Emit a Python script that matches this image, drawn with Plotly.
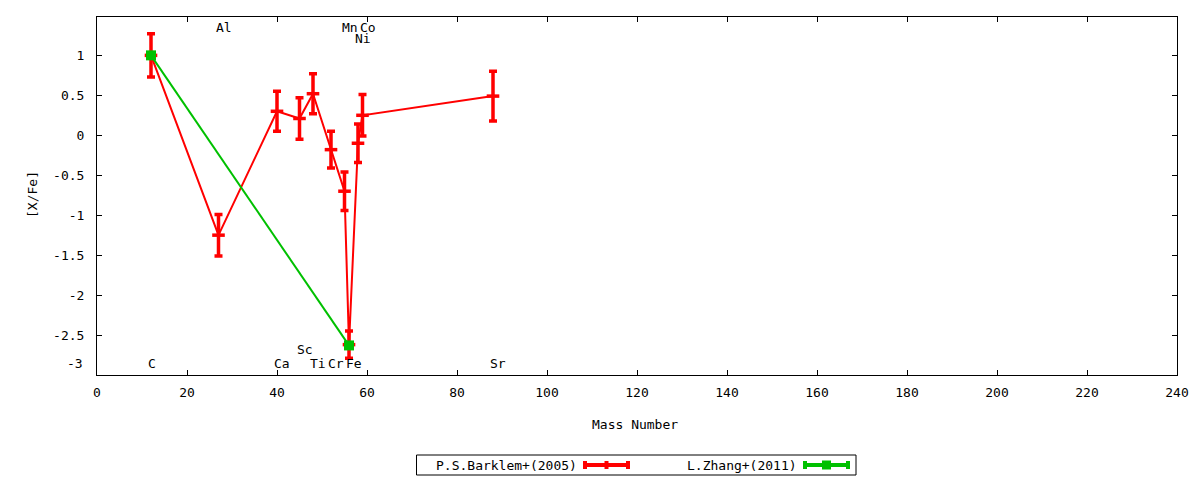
import plotly.graph_objects as go

# ---------------- data ----------------
barklem_elements = ["C", "Al", "Ca", "Sc", "Ti", "Cr", "Mn", "Fe", "Ni", "Co", "Sr"]
barklem_mass = [12, 27, 40, 45, 48, 52, 55, 56, 58, 59, 88]
barklem_xfe = [1.00, -1.25, 0.30, 0.21, 0.52, -0.18, -0.70, -2.62, -0.10, 0.25, 0.49]
barklem_err = [0.27, 0.26, 0.25, 0.26, 0.25, 0.23, 0.24, 0.17, 0.24, 0.26, 0.31]

zhang_elements = ["C", "Fe"]
zhang_mass = [12, 56]
zhang_xfe = [1.00, -2.63]
zhang_err = [0.0, 0.0]

series_names = ["P.S.Barklem+(2005)", "L.Zhang+(2011)"]

y_tick_vals = [1, 0.5, 0, -0.5, -1, -1.5, -2, -2.5]
y_tick_text = ["1", "0.5", "0", "-0.5", "-1", "-1.5", "-2", "-2.5"]
x_tick_vals = list(range(0, 241, 20))

# label placement rows (style)
label_row_y = {"top": 1.35, "top2": 1.21, "bottom": -2.86, "bottom2": -2.68}
label_rows = {"C": "bottom", "Al": "top", "Ca": "bottom", "Sc": "bottom2", "Ti": "bottom",
              "Cr": "bottom", "Mn": "top", "Fe": "bottom", "Ni": "top2", "Co": "top", "Sr": "bottom"}

RED = "#ff0000"
GREEN = "#00c000"
FONT = "DejaVu Sans Mono"
FS = 13

OFF = 8  # page body margin
W, H = 1200 - OFF, 480 - OFF
# target plot area in screen pixels: x 97..1177, y 17..375
ML, MT = 97 - OFF, 17 - OFF
MR = W - (1177 - OFF)
MB = H - (375 - OFF)
PW = W - ML - MR
PH = H - MT - MB


def px(x):
    # screen pixel x -> paper
    return (x - OFF - ML) / PW


def py(y):
    # screen pixel y -> paper
    return (H - MB - (y - OFF)) / PH


fig = go.Figure()

fig.add_trace(go.Scatter(
    x=barklem_mass, y=barklem_xfe, name=series_names[0],
    mode="lines+markers",
    line=dict(color=RED, width=2),
    marker=dict(symbol="line-ew", size=9, color=RED, line=dict(color=RED, width=3.5)),
    error_y=dict(type="data", array=barklem_err, visible=True, color=RED, thickness=3.5, width=4),
    showlegend=False,
))

fig.add_trace(go.Scatter(
    x=zhang_mass, y=zhang_xfe, name=series_names[1],
    mode="lines+markers",
    line=dict(color=GREEN, width=2),
    marker=dict(symbol="square", size=10, color=GREEN),
    error_y=dict(type="data", array=zhang_err, visible=True, color=GREEN, thickness=3.5, width=4),
    showlegend=False,
))

annotations = []
for el, m in zip(barklem_elements, barklem_mass):
    annotations.append(dict(
        x=m - 0.8, y=label_row_y[label_rows[el]], xref="x", yref="y",
        text=el, showarrow=False, xanchor="left", yanchor="middle",
        font=dict(family=FONT, size=FS, color="black"), borderpad=0,
    ))

# -3 tick label (drawn slightly raised as in the reference)
annotations.append(dict(x=px(84), y=py(363), xref="paper", yref="paper", text="-3",
                        showarrow=False, xanchor="right", yanchor="middle",
                        font=dict(family=FONT, size=FS, color="black"), borderpad=0))

# axis titles
annotations.append(dict(x=px(635), y=py(425), xref="paper", yref="paper", text="Mass Number",
                        showarrow=False, xanchor="center", yanchor="middle",
                        font=dict(family=FONT, size=FS, color="black")))
annotations.append(dict(x=px(32), y=py(195), xref="paper", yref="paper", text="[X/Fe]",
                        showarrow=False, xanchor="center", yanchor="middle", textangle=-90,
                        font=dict(family=FONT, size=FS, color="black")))

# custom gnuplot-like legend
shapes = []
shapes.append(dict(type="rect", xref="paper", yref="paper",
                   x0=px(416.5), x1=px(856), y0=py(475), y1=py(455),
                   line=dict(color="black", width=1), fillcolor="white", layer="above"))
leg_y = 465
entries = [(series_names[0], 578, 585, 628, RED, "bar"),
           (series_names[1], 798, 805, 848, GREEN, "square")]
for name, txt_right, s0, s1, col, mk in entries:
    annotations.append(dict(x=px(txt_right), y=py(leg_y), xref="paper", yref="paper", text=name,
                            showarrow=False, xanchor="right", yanchor="middle", borderpad=0,
                            font=dict(family=FONT, size=FS, color="black")))
    shapes.append(dict(type="line", xref="paper", yref="paper", x0=px(s0), x1=px(s1),
                       y0=py(leg_y), y1=py(leg_y), line=dict(color=col, width=4), layer="above"))
    for cx in (s0, s1):
        shapes.append(dict(type="rect", xref="paper", yref="paper", x0=px(cx - 2), x1=px(cx + 2),
                           y0=py(leg_y + 4), y1=py(leg_y - 4), line=dict(width=0), fillcolor=col,
                           layer="above"))
    mid = (s0 + s1) / 2
    if mk == "square":
        shapes.append(dict(type="rect", xref="paper", yref="paper", x0=px(mid - 4.5), x1=px(mid + 4.5),
                           y0=py(leg_y + 4.5), y1=py(leg_y - 4.5), line=dict(width=0), fillcolor=col,
                           layer="above"))
    else:
        shapes.append(dict(type="rect", xref="paper", yref="paper", x0=px(mid - 2), x1=px(mid + 2),
                           y0=py(leg_y + 4), y1=py(leg_y - 4), line=dict(width=0), fillcolor=col,
                           layer="above"))

fig.update_layout(
    width=W, height=H,
    margin=dict(l=ML, r=MR, t=MT, b=MB, pad=0),
    paper_bgcolor="white", plot_bgcolor="white",
    font=dict(family=FONT, size=FS, color="black"),
    showlegend=False,
    annotations=annotations,
    shapes=shapes,
)

fig.update_xaxes(
    range=[0, 240], tickvals=x_tick_vals, ticks="inside", ticklen=5, tickwidth=1,
    tickcolor="black", showline=True, linecolor="black", linewidth=1, mirror="ticks",
    showgrid=False, zeroline=False, ticklabelstandoff=5,
    tickfont=dict(family=FONT, size=FS, color="black"),
)
fig.update_yaxes(
    range=[-3.0, 1.48], tickvals=y_tick_vals, ticktext=y_tick_text, ticks="inside", ticklen=5,
    tickwidth=1, tickcolor="black", showline=True, linecolor="black", linewidth=1, mirror="ticks",
    showgrid=False, zeroline=False, ticklabelstandoff=9,
    tickfont=dict(family=FONT, size=FS, color="black"),
)

fig.write_html("out.html")
